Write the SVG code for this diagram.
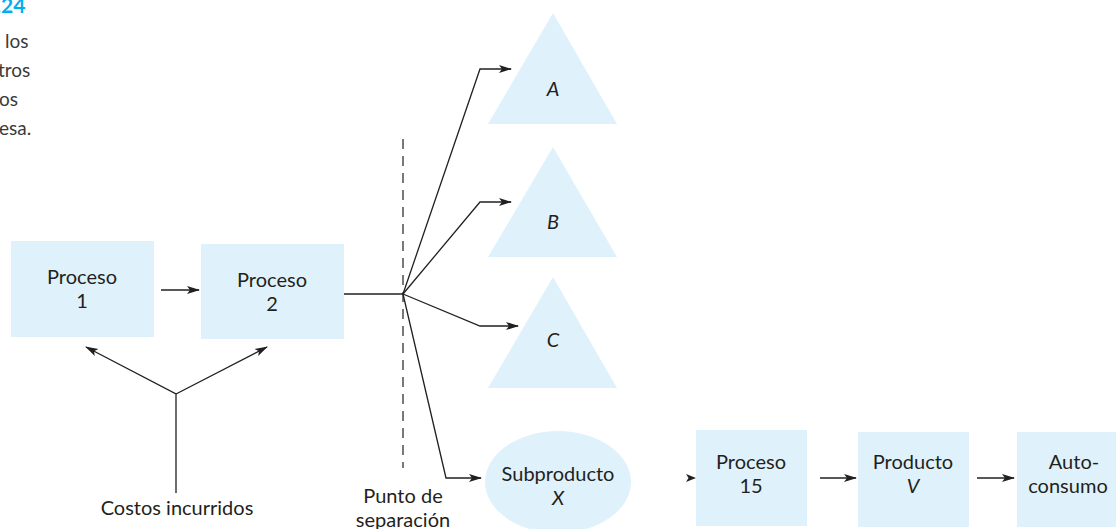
<svg xmlns="http://www.w3.org/2000/svg" width="1116" height="529" viewBox="0 0 1116 529">
<style>
.box{fill:#DFF2FB}
.t{font-family:Lato,"Open Sans","Liberation Sans",sans-serif;font-size:20px;fill:#231F20;text-anchor:middle}
.i{font-style:italic}
.side{font-family:Lato,"Open Sans","Liberation Sans",sans-serif;font-size:19px;fill:#3A3A3A}
.ln{fill:none;stroke:#231F20;stroke-width:1.3}
</style>
<defs>
<marker id="ah" markerWidth="14" markerHeight="10" refX="12" refY="5" orient="auto" markerUnits="userSpaceOnUse">
<path d="M0,1 L13,5 L0,9 L3,5 z" fill="#231F20"/>
</marker>
</defs>
<text x="-4" y="13" font-family="Lato,'Open Sans',sans-serif" font-size="21" font-weight="bold" fill="#00AEEF">.24</text>
<text class="side" x="5" y="48">los</text>
<text class="side" x="-2" y="77">tros</text>
<text class="side" x="-1" y="106">os</text>
<text class="side" x="-1" y="135">esa.</text>
<g id="proceso1"><rect class="box" x="11" y="241" width="143" height="96"/><text class="t" x="82" y="284">Proceso</text><text class="t" x="82" y="308">1</text></g>
<g id="proceso2"><rect class="box" x="201" y="244" width="143" height="95"/><text class="t" x="272" y="287">Proceso</text><text class="t" x="272" y="311">2</text></g>
<g id="costos"><text class="t" x="177" y="515">Costos incurridos</text></g>
<g id="punto"><line x1="403" y1="139" x2="403" y2="468" stroke="#231F20" stroke-width="1.2" stroke-dasharray="10,7"/><text class="t" x="403" y="503">Punto de</text><text class="t" x="403" y="527">separación</text></g>
<g id="A"><polygon class="box" points="553,13 617,124 488,124"/><text class="t i" x="553" y="96">A</text></g>
<g id="B"><polygon class="box" points="553,147 617,257 488,257"/><text class="t i" x="553" y="229">B</text></g>
<g id="C"><polygon class="box" points="553,277 617,388 488,388"/><text class="t i" x="553" y="347">C</text></g>
<g id="X"><ellipse class="box" cx="558" cy="482" rx="73" ry="51"/><text class="t" x="558" y="481">Subproducto</text><text class="t i" x="558" y="505">X</text></g>
<g id="proceso15"><rect class="box" x="696" y="430" width="111" height="96"/><text class="t" x="751" y="469">Proceso</text><text class="t" x="751" y="493">15</text></g>
<g id="productoV"><rect class="box" x="858" y="432" width="111" height="95"/><text class="t" x="913" y="469">Producto</text><text class="t i" x="913" y="493">V</text></g>
<g id="auto"><rect class="box" x="1017" y="432" width="110" height="95"/><text class="t" x="1074" y="469">Auto-</text><text class="t" x="1068" y="493">consumo</text></g>
<g id="connectors">
<line class="ln" x1="161" y1="290" x2="199" y2="290" marker-end="url(#ah)"/>
<line class="ln" x1="344" y1="294" x2="403" y2="294"/>
<polyline class="ln" points="176,493 176,394 86,347" marker-end="url(#ah)"/>
<line class="ln" x1="176" y1="394" x2="267" y2="347" marker-end="url(#ah)"/>
<polyline class="ln" points="403,294 480,69 511,69" marker-end="url(#ah)"/>
<polyline class="ln" points="403,294 480,202 511,202" marker-end="url(#ah)"/>
<polyline class="ln" points="403,294 480,326 518,326" marker-end="url(#ah)"/>
<polyline class="ln" points="403,294 446,478 481,478" marker-end="url(#ah)"/>
<path d="M686,474 L696,478 L686,482 L688.5,478 z" fill="#231F20"/>
<line class="ln" x1="820" y1="478" x2="856" y2="478" marker-end="url(#ah)"/>
<line class="ln" x1="977" y1="478" x2="1014" y2="478" marker-end="url(#ah)"/>
</g>
</svg>
